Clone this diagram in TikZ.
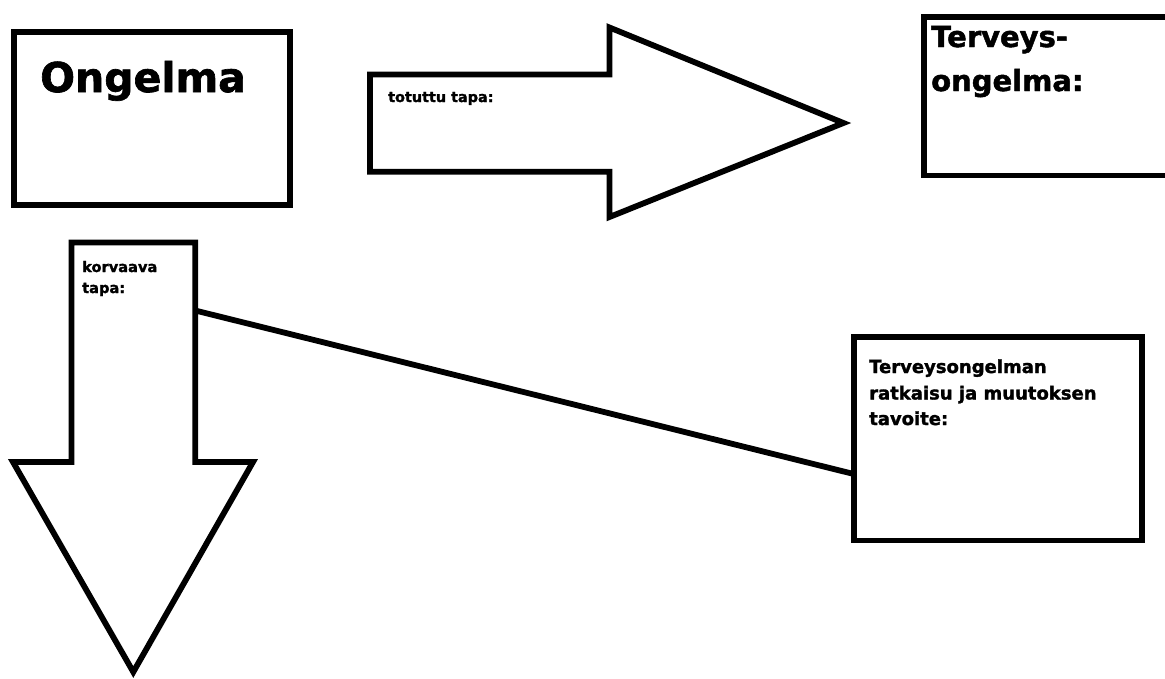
\documentclass[tikz,border=0pt]{standalone}
\usepackage{fontspec}
\setmainfont{DejaVu Sans}[BoldFeatures={FakeBold=1.6}]
\newcommand\fsz[1]{\fontsize{#1}{#1}\selectfont\bfseries}
\begin{document}
\begin{tikzpicture}[x=1pt,y=-1pt,
  outline/.style={draw=black,line width=5.8pt,line join=miter,fill=white},
  boxnode/.style={outline,inner sep=0pt,minimum width=#1},
  lbl/.style={anchor=base west,inner sep=0pt,text=black}]
\useasboundingbox[fill=white] (0,0) rectangle (1165,678);
% boxes
\node[boxnode=276.5pt,minimum height=173.3pt] (ongelma) at (152.05,118.65) {};
\node[boxnode=287.9pt,minimum height=203.5pt] (ratk) at (997.75,438.75) {};
\draw[outline,fill=none] (1172,17) -- (924,17) -- (924,175.5) -- (1172,175.5);
% right arrow
\draw[outline] (370,74.5) coordinate (ra1) -- (609.5,74.5) -- (609.5,27.5) -- (843.5,123) coordinate (ratip)
  -- (609.5,217) -- (609.5,171.7) -- (370,171.7) -- cycle;
% down arrow
\draw[outline] (71.5,242.5) coordinate (da1) -- (195.2,242.5) -- (195.2,462) -- (253,462) -- (133.3,672) coordinate (datip)
  -- (13,462) -- (71.5,462) -- cycle;
% connector
\coordinate (cs) at (195.2,310.5);
\coordinate (ce) at (853.8,474);
\draw[line width=5.8pt] (cs) -- (ce);
% texts
\node[lbl,font=\fsz{41}] (t1) at (40,92) {Ongelma};
\node[lbl,font=\fsz{29}] (t2) at (931,47) {Terveys-};
\node[lbl,font=\fsz{29}] (t3) at (931,91) {ongelma:};
\node[lbl,font=\fsz{14.4}] (t4) at (388,102) {totuttu tapa:};
\node[lbl,font=\fsz{14.6}] (t5) at (82,272) {korvaava};
\node[lbl,font=\fsz{14.6}] (t6) at (82,293) {tapa:};
\node[lbl,font=\fsz{18}] (t7) at (869,373) {Terveysongelman};
\node[lbl,font=\fsz{18}] (t8) at (869,399.5) {ratkaisu ja muutoksen};
\node[lbl,font=\fsz{18}] (t9) at (869,425) {tavoite:};
\end{tikzpicture}
\end{document}
